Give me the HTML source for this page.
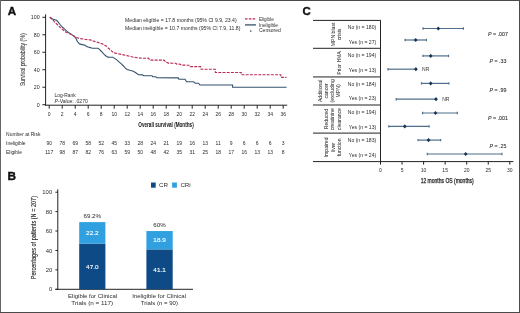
<!DOCTYPE html>
<html><head><meta charset="utf-8"><style>
html,body{margin:0;padding:0;background:#fff;}
svg{display:block;will-change:transform;font-family:"Liberation Sans",sans-serif;}
</style></head><body>
<svg width="520" height="313" viewBox="0 0 520 313" fill="#2b2b2b">
<rect x="0" y="0" width="520" height="313" fill="#fff"/>
<text x="7.80" y="14.80" font-size="11.6" fill="#111" font-weight="bold" stroke="#111" stroke-width="0.4">A</text>
<line x1="45.60" y1="14.30" x2="45.60" y2="105.70" stroke="#222" stroke-width="1" />
<line x1="45.10" y1="105.20" x2="287.20" y2="105.20" stroke="#222" stroke-width="1" />
<line x1="42.40" y1="104.70" x2="45.60" y2="104.70" stroke="#222" stroke-width="1" />
<text x="39.60" y="106.60" font-size="5.3" text-anchor="end" >0</text>
<line x1="42.40" y1="87.22" x2="45.60" y2="87.22" stroke="#222" stroke-width="1" />
<text x="39.60" y="89.12" font-size="5.3" text-anchor="end" >20</text>
<line x1="42.40" y1="69.74" x2="45.60" y2="69.74" stroke="#222" stroke-width="1" />
<text x="39.60" y="71.64" font-size="5.3" text-anchor="end" >40</text>
<line x1="42.40" y1="52.26" x2="45.60" y2="52.26" stroke="#222" stroke-width="1" />
<text x="39.60" y="54.16" font-size="5.3" text-anchor="end" >60</text>
<line x1="42.40" y1="34.78" x2="45.60" y2="34.78" stroke="#222" stroke-width="1" />
<text x="39.60" y="36.68" font-size="5.3" text-anchor="end" >80</text>
<line x1="42.40" y1="17.30" x2="45.60" y2="17.30" stroke="#222" stroke-width="1" />
<text x="39.60" y="19.20" font-size="5.3" text-anchor="end" >100</text>
<line x1="49.20" y1="105.20" x2="49.20" y2="108.70" stroke="#222" stroke-width="1" />
<text x="49.20" y="116.00" font-size="5" text-anchor="middle" >0</text>
<line x1="62.20" y1="105.20" x2="62.20" y2="108.70" stroke="#222" stroke-width="1" />
<text x="62.20" y="116.00" font-size="5" text-anchor="middle" >2</text>
<line x1="75.20" y1="105.20" x2="75.20" y2="108.70" stroke="#222" stroke-width="1" />
<text x="75.20" y="116.00" font-size="5" text-anchor="middle" >4</text>
<line x1="88.20" y1="105.20" x2="88.20" y2="108.70" stroke="#222" stroke-width="1" />
<text x="88.20" y="116.00" font-size="5" text-anchor="middle" >6</text>
<line x1="101.20" y1="105.20" x2="101.20" y2="108.70" stroke="#222" stroke-width="1" />
<text x="101.20" y="116.00" font-size="5" text-anchor="middle" >8</text>
<line x1="114.20" y1="105.20" x2="114.20" y2="108.70" stroke="#222" stroke-width="1" />
<text x="114.20" y="116.00" font-size="5" text-anchor="middle" >10</text>
<line x1="127.20" y1="105.20" x2="127.20" y2="108.70" stroke="#222" stroke-width="1" />
<text x="127.20" y="116.00" font-size="5" text-anchor="middle" >12</text>
<line x1="140.20" y1="105.20" x2="140.20" y2="108.70" stroke="#222" stroke-width="1" />
<text x="140.20" y="116.00" font-size="5" text-anchor="middle" >14</text>
<line x1="153.20" y1="105.20" x2="153.20" y2="108.70" stroke="#222" stroke-width="1" />
<text x="153.20" y="116.00" font-size="5" text-anchor="middle" >16</text>
<line x1="166.20" y1="105.20" x2="166.20" y2="108.70" stroke="#222" stroke-width="1" />
<text x="166.20" y="116.00" font-size="5" text-anchor="middle" >18</text>
<line x1="179.20" y1="105.20" x2="179.20" y2="108.70" stroke="#222" stroke-width="1" />
<text x="179.20" y="116.00" font-size="5" text-anchor="middle" >20</text>
<line x1="192.20" y1="105.20" x2="192.20" y2="108.70" stroke="#222" stroke-width="1" />
<text x="192.20" y="116.00" font-size="5" text-anchor="middle" >22</text>
<line x1="205.20" y1="105.20" x2="205.20" y2="108.70" stroke="#222" stroke-width="1" />
<text x="205.20" y="116.00" font-size="5" text-anchor="middle" >24</text>
<line x1="218.20" y1="105.20" x2="218.20" y2="108.70" stroke="#222" stroke-width="1" />
<text x="218.20" y="116.00" font-size="5" text-anchor="middle" >26</text>
<line x1="231.20" y1="105.20" x2="231.20" y2="108.70" stroke="#222" stroke-width="1" />
<text x="231.20" y="116.00" font-size="5" text-anchor="middle" >28</text>
<line x1="244.20" y1="105.20" x2="244.20" y2="108.70" stroke="#222" stroke-width="1" />
<text x="244.20" y="116.00" font-size="5" text-anchor="middle" >30</text>
<line x1="257.20" y1="105.20" x2="257.20" y2="108.70" stroke="#222" stroke-width="1" />
<text x="257.20" y="116.00" font-size="5" text-anchor="middle" >32</text>
<line x1="270.20" y1="105.20" x2="270.20" y2="108.70" stroke="#222" stroke-width="1" />
<text x="270.20" y="116.00" font-size="5" text-anchor="middle" >34</text>
<line x1="283.20" y1="105.20" x2="283.20" y2="108.70" stroke="#222" stroke-width="1" />
<text x="283.20" y="116.00" font-size="5" text-anchor="middle" >36</text>
<text x="166.00" y="126.70" font-size="7.8" text-anchor="middle" fill="#222" textLength="55.40" lengthAdjust="spacingAndGlyphs" font-weight="bold" stroke="#222" stroke-width="0.05">Overall survival (Months)</text>
<text transform="translate(24.9 59.75) rotate(-90)" x="0" y="0" font-size="7.8" text-anchor="middle" textLength="52.7" lengthAdjust="spacingAndGlyphs" fill="#2b2b2b" stroke="#2b2b2b" stroke-width="0.06">Survival probability (%)</text>
<text x="125.00" y="22.20" font-size="5.1" textLength="111.70" lengthAdjust="spacingAndGlyphs" >Median eligible = 17.8 months (95% CI 9.9, 23.4)</text>
<text x="125.00" y="30.20" font-size="5.1" textLength="115.40" lengthAdjust="spacingAndGlyphs" >Median ineligible = 10.7 months (95% CI 7.9, 11.8)</text>
<line x1="245.00" y1="18.80" x2="256.00" y2="18.80" stroke="#b92c53" stroke-width="1.3" stroke-dasharray="2.6 1.2"/>
<line x1="245.00" y1="24.90" x2="256.00" y2="24.90" stroke="#35536e" stroke-width="1.3" />
<rect x="250.1" y="30.4" width="1.3" height="1.3" fill="#333"/>
<text x="258.90" y="20.60" font-size="5.1" textLength="14.80" lengthAdjust="spacingAndGlyphs" >Eligible</text>
<text x="258.90" y="27.20" font-size="5.1" textLength="19.10" lengthAdjust="spacingAndGlyphs" >Ineligible</text>
<text x="259.00" y="32.20" font-size="5.1" textLength="21.70" lengthAdjust="spacingAndGlyphs" >Censored</text>
<text x="54.60" y="96.90" font-size="5" textLength="21.00" lengthAdjust="spacingAndGlyphs" >Log-Rank</text>
<text x="54.60" y="102.70" font-size="5" textLength="33.20" lengthAdjust="spacingAndGlyphs" ><tspan font-style="italic">P</tspan>-Value: .0270</text>
<text x="6.10" y="136.20" font-size="5" textLength="34.30" lengthAdjust="spacingAndGlyphs" >Number at Risk</text>
<text x="6.00" y="144.90" font-size="5" textLength="19.60" lengthAdjust="spacingAndGlyphs" >Ineligible</text>
<text x="6.00" y="153.90" font-size="5" textLength="15.90" lengthAdjust="spacingAndGlyphs" >Eligible</text>
<text x="49.20" y="145.10" font-size="5" text-anchor="middle" >90</text>
<text x="49.20" y="154.30" font-size="5" text-anchor="middle" >117</text>
<text x="62.20" y="145.10" font-size="5" text-anchor="middle" >78</text>
<text x="62.20" y="154.30" font-size="5" text-anchor="middle" >98</text>
<text x="75.20" y="145.10" font-size="5" text-anchor="middle" >69</text>
<text x="75.20" y="154.30" font-size="5" text-anchor="middle" >87</text>
<text x="88.20" y="145.10" font-size="5" text-anchor="middle" >58</text>
<text x="88.20" y="154.30" font-size="5" text-anchor="middle" >82</text>
<text x="101.20" y="145.10" font-size="5" text-anchor="middle" >52</text>
<text x="101.20" y="154.30" font-size="5" text-anchor="middle" >76</text>
<text x="114.20" y="145.10" font-size="5" text-anchor="middle" >45</text>
<text x="114.20" y="154.30" font-size="5" text-anchor="middle" >63</text>
<text x="127.20" y="145.10" font-size="5" text-anchor="middle" >33</text>
<text x="127.20" y="154.30" font-size="5" text-anchor="middle" >59</text>
<text x="140.20" y="145.10" font-size="5" text-anchor="middle" >28</text>
<text x="140.20" y="154.30" font-size="5" text-anchor="middle" >50</text>
<text x="153.20" y="145.10" font-size="5" text-anchor="middle" >24</text>
<text x="153.20" y="154.30" font-size="5" text-anchor="middle" >48</text>
<text x="166.20" y="145.10" font-size="5" text-anchor="middle" >21</text>
<text x="166.20" y="154.30" font-size="5" text-anchor="middle" >42</text>
<text x="179.20" y="145.10" font-size="5" text-anchor="middle" >19</text>
<text x="179.20" y="154.30" font-size="5" text-anchor="middle" >35</text>
<text x="192.20" y="145.10" font-size="5" text-anchor="middle" >16</text>
<text x="192.20" y="154.30" font-size="5" text-anchor="middle" >31</text>
<text x="205.20" y="145.10" font-size="5" text-anchor="middle" >13</text>
<text x="205.20" y="154.30" font-size="5" text-anchor="middle" >25</text>
<text x="218.20" y="145.10" font-size="5" text-anchor="middle" >11</text>
<text x="218.20" y="154.30" font-size="5" text-anchor="middle" >18</text>
<text x="231.20" y="145.10" font-size="5" text-anchor="middle" >9</text>
<text x="231.20" y="154.30" font-size="5" text-anchor="middle" >17</text>
<text x="244.20" y="145.10" font-size="5" text-anchor="middle" >6</text>
<text x="244.20" y="154.30" font-size="5" text-anchor="middle" >16</text>
<text x="257.20" y="145.10" font-size="5" text-anchor="middle" >6</text>
<text x="257.20" y="154.30" font-size="5" text-anchor="middle" >13</text>
<text x="270.20" y="145.10" font-size="5" text-anchor="middle" >6</text>
<text x="270.20" y="154.30" font-size="5" text-anchor="middle" >13</text>
<text x="283.20" y="145.10" font-size="5" text-anchor="middle" >3</text>
<text x="283.20" y="154.30" font-size="5" text-anchor="middle" >8</text>
<polyline points="49.8,17.3 53.0,19.3 56.5,20.3 58.3,22.1 60.0,24.5 62.2,27.0 64.6,29.1 67.1,31.4 71.0,34.1 74.5,36.5 75.9,38.3 77.0,40.8 78.1,42.5 79.5,43.9 82.3,44.6 85.1,45.3 86.5,46.4 88.2,47.1 90.2,47.6 92.3,48.3 98.0,48.3 99.4,49.4 101.5,51.5 103.6,53.9 105.7,55.7 107.8,57.1 109.9,57.3 112.9,57.3 115.0,58.6 117.1,60.1 119.2,62.2 121.4,63.9 123.5,66.0 125.4,68.1 127.1,69.4 129.8,70.3 133.4,71.2 136.1,73.0 137.9,74.3 138.5,74.7 142.6,74.9 143.8,75.8 152.1,75.8 152.7,76.7 155.9,76.7 156.8,77.8 178.3,77.9 178.9,79.1 185.0,79.2 186.6,81.8 193.5,81.8 195.3,83.2 198.6,83.2 199.9,85.0 232.6,85.0 232.6,87.2 286.6,87.2" fill="none" stroke="#35536e" stroke-width="1.1" stroke-linejoin="miter"/>
<polyline points="49.8,17.3 53.0,20.0 55.1,22.4 57.2,24.5 60.0,27.4 62.9,29.8 65.7,31.9 69.2,33.7 71.0,34.3 74.5,36.5 76.6,37.6 80.2,38.6 83.7,39.1 86.0,39.5 90.2,39.9 93.0,40.9 96.5,42.0 100.1,43.0 103.6,44.4 106.4,46.2 108.5,48.3 110.8,50.2 113.6,52.7 116.4,53.4 119.9,54.1 123.5,54.9 127.0,55.6 130.5,56.5 134.0,57.3 137.9,57.8 142.3,58.3 148.5,58.2 149.8,60.1 164.0,60.1 166.0,62.2 168.5,63.1 175.5,63.3 176.8,64.1 180.5,64.3 181.2,65.1 189.6,65.3 190.4,66.6 200.6,66.6 201.0,69.2 215.2,69.2 215.4,72.5 241.2,72.5 241.4,74.7 280.8,74.7 281.0,77.3 286.6,77.3" fill="none" stroke="#b92c53" stroke-width="1.15" stroke-dasharray="3 1.2"/>
<text x="7.50" y="179.90" font-size="11.8" fill="#111" font-weight="bold" stroke="#111" stroke-width="0.4">B</text>
<rect x="151.0" y="182.5" width="4.7" height="5.2" fill="#0e4a86"/>
<text x="159.00" y="187.30" font-size="6" textLength="9.00" lengthAdjust="spacingAndGlyphs" >CR</text>
<rect x="172.1" y="182.5" width="4.8" height="5.2" fill="#31a0e0"/>
<text x="180.40" y="187.30" font-size="6" textLength="10.30" lengthAdjust="spacingAndGlyphs" >CRi</text>
<line x1="57.80" y1="189.30" x2="57.80" y2="289.80" stroke="#222" stroke-width="1" />
<line x1="55.40" y1="289.30" x2="193.00" y2="289.30" stroke="#222" stroke-width="1" />
<line x1="55.40" y1="289.30" x2="57.80" y2="289.30" stroke="#222" stroke-width="1" />
<text x="52.20" y="291.40" font-size="5.9" text-anchor="end" >0</text>
<line x1="55.40" y1="269.88" x2="57.80" y2="269.88" stroke="#222" stroke-width="1" />
<text x="52.20" y="271.98" font-size="5.9" text-anchor="end" >20</text>
<line x1="55.40" y1="250.46" x2="57.80" y2="250.46" stroke="#222" stroke-width="1" />
<text x="52.20" y="252.56" font-size="5.9" text-anchor="end" >40</text>
<line x1="55.40" y1="231.04" x2="57.80" y2="231.04" stroke="#222" stroke-width="1" />
<text x="52.20" y="233.14" font-size="5.9" text-anchor="end" >60</text>
<line x1="55.40" y1="211.62" x2="57.80" y2="211.62" stroke="#222" stroke-width="1" />
<text x="52.20" y="213.72" font-size="5.9" text-anchor="end" >80</text>
<line x1="55.40" y1="192.20" x2="57.80" y2="192.20" stroke="#222" stroke-width="1" />
<text x="52.20" y="194.30" font-size="5.9" text-anchor="end" >100</text>
<rect x="79.2" y="243.66" width="26.20" height="45.64" fill="#0e4a86"/>
<rect x="79.2" y="222.11" width="26.20" height="21.56" fill="#31a0e0"/>
<text x="92.30" y="217.81" font-size="6.2" text-anchor="middle" >69.2%</text>
<text x="92.30" y="235.08" font-size="6.2" text-anchor="middle" fill="#fff" stroke="#fff" stroke-width="0.12" textLength="12.40" lengthAdjust="spacingAndGlyphs" >22.2</text>
<text x="92.30" y="268.68" font-size="6.2" text-anchor="middle" fill="#fff" stroke="#fff" stroke-width="0.12" textLength="12.40" lengthAdjust="spacingAndGlyphs" >47.0</text>
<rect x="146.4" y="249.39" width="26.30" height="39.91" fill="#0e4a86"/>
<rect x="146.4" y="231.04" width="26.30" height="18.35" fill="#31a0e0"/>
<text x="159.55" y="226.74" font-size="6.2" text-anchor="middle" >60%</text>
<text x="159.55" y="242.42" font-size="6.2" text-anchor="middle" fill="#fff" stroke="#fff" stroke-width="0.12" textLength="12.40" lengthAdjust="spacingAndGlyphs" >18.9</text>
<text x="159.55" y="271.55" font-size="6.2" text-anchor="middle" fill="#fff" stroke="#fff" stroke-width="0.12" textLength="12.40" lengthAdjust="spacingAndGlyphs" >41.1</text>
<text x="92.60" y="297.60" font-size="6.1" text-anchor="middle" textLength="49.00" lengthAdjust="spacingAndGlyphs" >Eligible for Clinical</text>
<text x="92.20" y="304.90" font-size="6.1" text-anchor="middle" textLength="41.70" lengthAdjust="spacingAndGlyphs" >Trials (n = 117)</text>
<text x="159.10" y="297.60" font-size="6.1" text-anchor="middle" textLength="53.80" lengthAdjust="spacingAndGlyphs" >Ineligible for Clinical</text>
<text x="159.35" y="304.90" font-size="6.1" text-anchor="middle" textLength="37.10" lengthAdjust="spacingAndGlyphs" >Trials (n = 90)</text>
<text transform="translate(35.8 237.6) rotate(-90)" x="0" y="0" font-size="7.5" text-anchor="middle" textLength="83.3" lengthAdjust="spacingAndGlyphs" fill="#222" stroke="#222" stroke-width="0.12">Percentages of patients (N = 207)</text>
<text x="302.60" y="14.70" font-size="11.4" fill="#111" font-weight="bold" stroke="#111" stroke-width="0.4">C</text>
<line x1="313.00" y1="20.40" x2="380.80" y2="20.40" stroke="#222" stroke-width="1" />
<line x1="313.00" y1="48.30" x2="380.80" y2="48.30" stroke="#222" stroke-width="1" />
<line x1="313.00" y1="76.95" x2="380.80" y2="76.95" stroke="#222" stroke-width="1" />
<line x1="313.00" y1="105.00" x2="380.80" y2="105.00" stroke="#222" stroke-width="1" />
<line x1="313.00" y1="133.10" x2="380.80" y2="133.10" stroke="#222" stroke-width="1" />
<line x1="313.00" y1="161.60" x2="380.80" y2="161.60" stroke="#222" stroke-width="1" />
<line x1="380.50" y1="20.40" x2="380.50" y2="162.10" stroke="#222" stroke-width="1" />
<line x1="380.50" y1="161.60" x2="513.40" y2="161.60" stroke="#222" stroke-width="1" />
<line x1="380.50" y1="161.60" x2="380.50" y2="164.60" stroke="#222" stroke-width="1" />
<text x="380.50" y="171.80" font-size="5" text-anchor="middle" >0</text>
<line x1="402.05" y1="161.60" x2="402.05" y2="164.60" stroke="#222" stroke-width="1" />
<text x="402.05" y="171.80" font-size="5" text-anchor="middle" >5</text>
<line x1="423.60" y1="161.60" x2="423.60" y2="164.60" stroke="#222" stroke-width="1" />
<text x="423.60" y="171.80" font-size="5" text-anchor="middle" >10</text>
<line x1="445.15" y1="161.60" x2="445.15" y2="164.60" stroke="#222" stroke-width="1" />
<text x="445.15" y="171.80" font-size="5" text-anchor="middle" >15</text>
<line x1="466.70" y1="161.60" x2="466.70" y2="164.60" stroke="#222" stroke-width="1" />
<text x="466.70" y="171.80" font-size="5" text-anchor="middle" >20</text>
<line x1="488.25" y1="161.60" x2="488.25" y2="164.60" stroke="#222" stroke-width="1" />
<text x="488.25" y="171.80" font-size="5" text-anchor="middle" >25</text>
<line x1="509.80" y1="161.60" x2="509.80" y2="164.60" stroke="#222" stroke-width="1" />
<text x="509.80" y="171.80" font-size="5" text-anchor="middle" >30</text>
<text x="447.20" y="182.50" font-size="6.6" text-anchor="middle" fill="#222" textLength="53.10" lengthAdjust="spacingAndGlyphs" stroke="#222" stroke-width="0.25">12 months OS (months)</text>
<text x="376.20" y="29.20" font-size="5.1" text-anchor="end" >No (n = 180)</text>
<line x1="423.00" y1="28.50" x2="463.40" y2="28.50" stroke="#4f6f8c" stroke-width="1.2" />
<line x1="423.00" y1="27.30" x2="423.00" y2="29.70" stroke="#4f6f8c" stroke-width="1.2" />
<line x1="463.40" y1="27.30" x2="463.40" y2="29.70" stroke="#4f6f8c" stroke-width="1.2" />
<path d="M436.40 28.50 L438.30 26.40 L440.20 28.50 L438.30 30.60Z" fill="#1a3552"/>
<text x="376.20" y="44.00" font-size="5.1" text-anchor="end" >Yes (n = 27)</text>
<line x1="405.10" y1="40.00" x2="426.40" y2="40.00" stroke="#4f6f8c" stroke-width="1.2" />
<line x1="405.10" y1="38.80" x2="405.10" y2="41.20" stroke="#4f6f8c" stroke-width="1.2" />
<line x1="426.40" y1="38.80" x2="426.40" y2="41.20" stroke="#4f6f8c" stroke-width="1.2" />
<path d="M413.80 40.00 L415.70 37.90 L417.60 40.00 L415.70 42.10Z" fill="#1a3552"/>
<text x="376.20" y="56.90" font-size="5.1" text-anchor="end" >No (n = 194)</text>
<line x1="423.00" y1="55.90" x2="448.50" y2="55.90" stroke="#4f6f8c" stroke-width="1.2" />
<line x1="423.00" y1="54.70" x2="423.00" y2="57.10" stroke="#4f6f8c" stroke-width="1.2" />
<line x1="448.50" y1="54.70" x2="448.50" y2="57.10" stroke="#4f6f8c" stroke-width="1.2" />
<path d="M428.80 55.90 L430.70 53.80 L432.60 55.90 L430.70 58.00Z" fill="#1a3552"/>
<text x="376.20" y="71.80" font-size="5.1" text-anchor="end" >Yes (n = 13)</text>
<line x1="388.00" y1="69.20" x2="415.90" y2="69.20" stroke="#4f6f8c" stroke-width="1.2" />
<line x1="388.00" y1="68.00" x2="388.00" y2="70.40" stroke="#4f6f8c" stroke-width="1.2" />
<path d="M414.00 69.20 L415.90 67.10 L417.80 69.20 L415.90 71.30Z" fill="#1a3552"/>
<text x="422.10" y="71.00" font-size="5" fill="#333" >NR</text>
<text x="376.20" y="85.70" font-size="5.1" text-anchor="end" >No (n = 184)</text>
<line x1="421.50" y1="83.40" x2="448.90" y2="83.40" stroke="#4f6f8c" stroke-width="1.2" />
<line x1="421.50" y1="82.20" x2="421.50" y2="84.60" stroke="#4f6f8c" stroke-width="1.2" />
<line x1="448.90" y1="82.20" x2="448.90" y2="84.60" stroke="#4f6f8c" stroke-width="1.2" />
<path d="M428.80 83.40 L430.70 81.30 L432.60 83.40 L430.70 85.50Z" fill="#1a3552"/>
<text x="376.20" y="100.40" font-size="5.1" text-anchor="end" >Yes (n = 23)</text>
<line x1="396.20" y1="99.20" x2="436.00" y2="99.20" stroke="#4f6f8c" stroke-width="1.2" />
<line x1="396.20" y1="98.00" x2="396.20" y2="100.40" stroke="#4f6f8c" stroke-width="1.2" />
<path d="M434.10 99.20 L436.00 97.10 L437.90 99.20 L436.00 101.30Z" fill="#1a3552"/>
<text x="442.20" y="101.00" font-size="5" fill="#333" >NR</text>
<text x="376.20" y="113.80" font-size="5.1" text-anchor="end" >No (n = 194)</text>
<line x1="422.60" y1="113.00" x2="457.30" y2="113.00" stroke="#4f6f8c" stroke-width="1.2" />
<line x1="422.60" y1="111.80" x2="422.60" y2="114.20" stroke="#4f6f8c" stroke-width="1.2" />
<line x1="457.30" y1="111.80" x2="457.30" y2="114.20" stroke="#4f6f8c" stroke-width="1.2" />
<path d="M433.60 113.00 L435.50 110.90 L437.40 113.00 L435.50 115.10Z" fill="#1a3552"/>
<text x="376.20" y="129.20" font-size="5.1" text-anchor="end" >Yes (n = 13)</text>
<line x1="388.80" y1="126.40" x2="429.10" y2="126.40" stroke="#4f6f8c" stroke-width="1.2" />
<line x1="388.80" y1="125.20" x2="388.80" y2="127.60" stroke="#4f6f8c" stroke-width="1.2" />
<line x1="429.10" y1="125.20" x2="429.10" y2="127.60" stroke="#4f6f8c" stroke-width="1.2" />
<path d="M402.90 126.40 L404.80 124.30 L406.70 126.40 L404.80 128.50Z" fill="#1a3552"/>
<text x="376.20" y="142.20" font-size="5.1" text-anchor="end" >No (n = 183)</text>
<line x1="418.10" y1="140.10" x2="440.60" y2="140.10" stroke="#4f6f8c" stroke-width="1.2" />
<line x1="418.10" y1="138.90" x2="418.10" y2="141.30" stroke="#4f6f8c" stroke-width="1.2" />
<line x1="440.60" y1="138.90" x2="440.60" y2="141.30" stroke="#4f6f8c" stroke-width="1.2" />
<path d="M426.60 140.10 L428.50 138.00 L430.40 140.10 L428.50 142.20Z" fill="#1a3552"/>
<text x="376.20" y="157.00" font-size="5.1" text-anchor="end" >Yes (n = 24)</text>
<line x1="427.30" y1="154.00" x2="501.90" y2="154.00" stroke="#4f6f8c" stroke-width="1.2" />
<line x1="427.30" y1="152.80" x2="427.30" y2="155.20" stroke="#4f6f8c" stroke-width="1.2" />
<line x1="501.90" y1="152.80" x2="501.90" y2="155.20" stroke="#4f6f8c" stroke-width="1.2" />
<path d="M463.80 154.00 L465.70 151.90 L467.60 154.00 L465.70 156.10Z" fill="#1a3552"/>
<text x="498.00" y="36.10" font-size="5.3" text-anchor="middle" stroke="#2b2b2b" stroke-width="0.08" ><tspan font-style="italic">P</tspan> = .007</text>
<text x="498.00" y="63.40" font-size="5.3" text-anchor="middle" stroke="#2b2b2b" stroke-width="0.08" ><tspan font-style="italic">P</tspan> = .33</text>
<text x="498.00" y="91.70" font-size="5.3" text-anchor="middle" stroke="#2b2b2b" stroke-width="0.08" ><tspan font-style="italic">P</tspan> = .99</text>
<text x="498.00" y="119.90" font-size="5.3" text-anchor="middle" stroke="#2b2b2b" stroke-width="0.08" ><tspan font-style="italic">P</tspan> = .001</text>
<text x="498.00" y="148.20" font-size="5.3" text-anchor="middle" stroke="#2b2b2b" stroke-width="0.08" ><tspan font-style="italic">P</tspan> = .25</text>
<text transform="translate(335.10 34.40) rotate(-90)" x="0" y="0" font-size="5.1" text-anchor="middle" fill="#333" stroke="#333" stroke-width="0.04">MPN blast</text>
<text transform="translate(341.10 34.40) rotate(-90)" x="0" y="0" font-size="5.1" text-anchor="middle" fill="#333" stroke="#333" stroke-width="0.04">crisis</text>
<text transform="translate(340.50 63.00) rotate(-90)" x="0" y="0" font-size="5.1" text-anchor="middle" fill="#333" stroke="#333" stroke-width="0.04">Prior HMA</text>
<text transform="translate(322.10 90.90) rotate(-90)" x="0" y="0" font-size="5.1" text-anchor="middle" fill="#333" stroke="#333" stroke-width="0.04">Additional</text>
<text transform="translate(328.40 90.90) rotate(-90)" x="0" y="0" font-size="5.1" text-anchor="middle" fill="#333" stroke="#333" stroke-width="0.04">cancer</text>
<text transform="translate(334.10 90.90) rotate(-90)" x="0" y="0" font-size="5.1" text-anchor="middle" fill="#333" stroke="#333" stroke-width="0.04">(excluding</text>
<text transform="translate(340.30 90.90) rotate(-90)" x="0" y="0" font-size="5.1" text-anchor="middle" fill="#333" stroke="#333" stroke-width="0.04">MPN)</text>
<text transform="translate(328.00 119.10) rotate(-90)" x="0" y="0" font-size="5.1" text-anchor="middle" fill="#333" stroke="#333" stroke-width="0.04">Reduced</text>
<text transform="translate(334.30 119.10) rotate(-90)" x="0" y="0" font-size="5.1" text-anchor="middle" fill="#333" stroke="#333" stroke-width="0.04">creatinine</text>
<text transform="translate(340.90 119.10) rotate(-90)" x="0" y="0" font-size="5.1" text-anchor="middle" fill="#333" stroke="#333" stroke-width="0.04">clearance</text>
<text transform="translate(328.40 147.40) rotate(-90)" x="0" y="0" font-size="5.1" text-anchor="middle" fill="#333" stroke="#333" stroke-width="0.04">Impaired</text>
<text transform="translate(334.70 147.40) rotate(-90)" x="0" y="0" font-size="5.1" text-anchor="middle" fill="#333" stroke="#333" stroke-width="0.04">liver</text>
<text transform="translate(340.90 147.40) rotate(-90)" x="0" y="0" font-size="5.1" text-anchor="middle" fill="#333" stroke="#333" stroke-width="0.04">function</text>
<rect x="0" y="0" width="520" height="1" fill="#4a4a4a"/>
<rect x="0" y="0" width="1" height="313" fill="#666"/>
<rect x="519" y="0" width="1" height="313" fill="#4a4a4a"/>
<rect x="0" y="312" width="520" height="1" fill="#4a4a4a"/>
</svg>
</body></html>
